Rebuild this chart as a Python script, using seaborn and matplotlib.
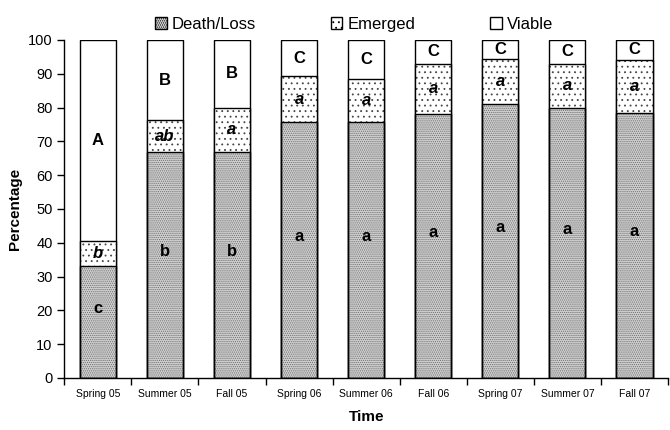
import matplotlib
matplotlib.use("Agg")
import matplotlib.pyplot as plt
from matplotlib.patches import Patch
import pandas as pd
import numpy as np
import seaborn as sns

sns.set_style("white")
plt.rcParams["font.family"] = ["Liberation Sans", "DejaVu Sans"]
plt.rcParams["hatch.linewidth"] = 0.6
plt.rcParams["text.color"] = "black"
plt.rcParams["axes.labelcolor"] = "black"

# data
seasons = ["Spring 05", "Summer 05", "Fall 05", "Spring 06", "Summer 06",
           "Fall 06", "Spring 07", "Summer 07", "Fall 07"]
death = [33.0, 66.8, 67.0, 75.6, 75.6, 78.0, 81.0, 80.0, 78.5]
emerged = [7.5, 9.5, 13.0, 13.6, 13.0, 15.0, 13.3, 13.0, 15.7]
viable = [100 - d - e for d, e in zip(death, emerged)]

death_letters = ["c", "b", "b", "a", "a", "a", "a", "a", "a"]
emerged_letters = ["b", "ab", "a", "a", "a", "a", "a", "a", "a"]
viable_letters = ["A", "B", "B", "C", "C", "C", "C", "C", "C"]

df = pd.DataFrame({"season": seasons, "death": death,
                   "emerged": emerged, "viable": viable})
df["top_emerged"] = df["death"] + df["emerged"]
df["top_viable"] = df["top_emerged"] + df["viable"]

fig = plt.figure(figsize=(6.7, 4.3), dpi=100)
ax = fig.add_axes([0.096, 0.121, 0.901, 0.786])

w = 0.54
sns.barplot(data=df, x="season", y="top_viable", color="white", width=w,
            edgecolor="black", linewidth=1, saturation=1, ax=ax)
n = len(ax.patches)
sns.barplot(data=df, x="season", y="top_emerged", color="white", width=w,
            edgecolor="#444444", linewidth=0, saturation=1, ax=ax)
for bar in ax.patches[n:]:
    bar.set_hatch("...")
n2 = len(ax.patches)
sns.barplot(data=df, x="season", y="death", color="#d0d0d0", width=w,
            edgecolor="#707070", linewidth=0, saturation=1, ax=ax)
for bar in ax.patches[n2:]:
    bar.set_hatch("........")
# black outlines on top of the hatched segments
sns.barplot(data=df, x="season", y="top_emerged", fill=False, width=w,
            color="black", linewidth=1, ax=ax)
sns.barplot(data=df, x="season", y="death", fill=False, width=w,
            color="black", linewidth=1, ax=ax)

# segment letters
for i in range(len(seasons)):
    ax.text(i, death[i] / 2 + 4, death_letters[i], ha="center", va="center",
            fontsize=12, fontweight="bold", color="black", zorder=5)
    ax.text(i, death[i] + emerged[i] / 2, emerged_letters[i], ha="center",
            va="center", fontsize=12, fontweight="bold", style="italic",
            color="black", zorder=5)
    ax.text(i, death[i] + emerged[i] + viable[i] / 2, viable_letters[i],
            ha="center", va="center", fontsize=12, fontweight="bold",
            color="black", zorder=5)

ax.set_ylim(0, 100)
ax.set_xlim(-0.5, len(seasons) - 0.5)
ax.set_yticks(range(0, 101, 10))
ax.tick_params(axis="y", labelsize=10.5, length=5, width=1, direction="out",
               left=True, colors="black")
ax.set_xticks(range(len(seasons)))
ax.set_xticklabels(seasons, fontsize=7.5)
ax.tick_params(axis="x", length=0, pad=8, labelcolor="black")
ax.set_xticks(np.arange(-0.5, len(seasons), 1), minor=True)
ax.tick_params(axis="x", which="minor", length=5, width=1, bottom=True,
               color="black")

for s in ["top", "right"]:
    ax.spines[s].set_visible(False)
for s in ["left", "bottom"]:
    ax.spines[s].set_color("black")
    ax.spines[s].set_linewidth(1)

ax.set_ylabel("Percentage", fontsize=11, fontweight="bold", labelpad=4)
ax.set_xlabel("Time", fontsize=11, fontweight="bold", labelpad=8)

handles = [Patch(facecolor="#d0d0d0", edgecolor="black", hatch="........"),
           Patch(facecolor="white", edgecolor="black", hatch="..."),
           Patch(facecolor="white", edgecolor="black")]
ax.legend(handles, ["Death/Loss", "Emerged", "Viable"], ncol=3,
          loc="lower center", bbox_to_anchor=(0.48, 1.0), frameon=False,
          fontsize=12, handlelength=0.7, handleheight=0.7, handletextpad=0.3,
          columnspacing=4.5, borderaxespad=0.1)

fig.savefig("out.png", dpi=100)
